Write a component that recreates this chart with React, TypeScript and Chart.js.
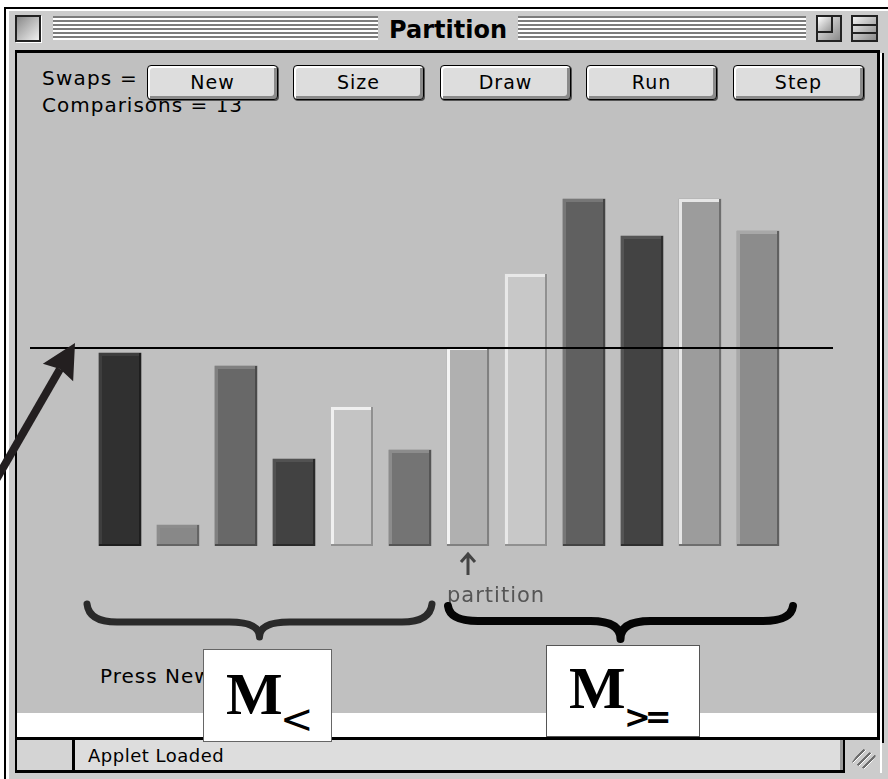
import React, { useEffect, useRef } from 'react';
import { Chart, registerables } from 'chart.js';

Chart.register(...registerables);

// ---- data ----
const barLabels = ['1', '2', '3', '4', '5', '6', '7', '8', '9', '10', '11', '12'];
const barValues = [193, 21, 180, 87, 139, 96, 199, 272, 347, 310, 347, 315];
const pivotValue = 199;
const partitionIndex = 6;
const leftGroup = [0, 5];
const rightGroup = [6, 11];
const buttonLabels = ['New', 'Size', 'Draw', 'Run', 'Step'];
const swapsCount = 10;
const comparisonsCount = 13;
const windowTitle = 'Partition';
const statusText = 'Applet Loaded';
const hintText = 'Press New';
const partitionLabel = 'partition';

// ---- styles ----
const barFills = ['#303030', '#888888', '#686868', '#424242', '#c4c4c4', '#747474', '#b0b0b0', '#c8c8c8', '#606060', '#434343', '#9c9c9c', '#8c8c8c'];
const barLights = ['#3e3e3e', '#8c8c8c', '#808080', '#525252', '#f0f0f0', '#8c8c8c', '#f4f4f4', '#e8e8e8', '#777777', '#555555', '#e6e6e6', '#a8a8a8'];
const barShades = ['#1e1e1e', '#646464', '#4a4a4a', '#2a2a2a', '#909090', '#555555', '#808080', '#909090', '#444444', '#2e2e2e', '#6e6e6e', '#606060'];

const bevelPlugin = {
  id: 'bevel',
  afterDatasetsDraw(chart: any) {
    const ctx = chart.ctx;
    const meta = chart.getDatasetMeta(0);
    meta.data.forEach((el: any, i: number) => {
      const p = el.getProps(['x', 'y', 'base', 'width'], true);
      const l = Math.round(p.x - p.width / 2);
      const r = Math.round(p.x + p.width / 2);
      const t = Math.round(p.y);
      const b = Math.round(p.base);
      ctx.save();
      ctx.fillStyle = barLights[i];
      ctx.fillRect(l, t, 3, b - t);
      ctx.fillRect(l, t, r - l, 3);
      ctx.fillStyle = barShades[i];
      ctx.fillRect(r - 2, t, 2, b - t);
      ctx.fillRect(l, b - 2, r - l, 2);
      ctx.restore();
    });
  },
};

function drawBrace(ctx: any, x0: number, x1: number, yTop: number, yMid: number, yTip: number, r: number, lw: number, color: string) {
  const mid = (x0 + x1) / 2;
  ctx.save();
  ctx.strokeStyle = color;
  ctx.lineWidth = lw;
  ctx.lineCap = 'round';
  ctx.lineJoin = 'round';
  ctx.beginPath();
  ctx.moveTo(x0, yTop);
  ctx.quadraticCurveTo(x0 + 2, yMid, x0 + r, yMid);
  ctx.lineTo(mid - r, yMid);
  ctx.quadraticCurveTo(mid, yMid, mid, yTip);
  ctx.quadraticCurveTo(mid, yMid, mid + r, yMid);
  ctx.lineTo(x1 - r, yMid);
  ctx.quadraticCurveTo(x1 - 2, yMid, x1, yTop);
  ctx.stroke();
  ctx.restore();
}

const overlayPlugin = {
  id: 'overlay',
  afterDraw(chart: any) {
    const ctx = chart.ctx;
    const xs = chart.scales.x;
    const ys = chart.scales.y;
    const area = chart.chartArea;
    const lineY = Math.round(ys.getPixelForValue(pivotValue));
    const lineX0 = area.left - 61;
    const lineX1 = area.right + 46;

    // pivot line
    ctx.save();
    ctx.fillStyle = '#000';
    ctx.fillRect(lineX0, lineY, lineX1 - lineX0, 2);
    ctx.restore();

    // annotation arrow pointing at the pivot line
    const tip = { x: lineX0 + 45, y: lineY - 4 };
    const d = { x: 0.5, y: -0.866 };
    const n = { x: 0.866, y: 0.5 };
    const bm = { x: tip.x - 34 * d.x, y: tip.y - 34 * d.y };
    ctx.save();
    ctx.strokeStyle = '#231f20';
    ctx.fillStyle = '#231f20';
    ctx.lineWidth = 8;
    ctx.beginPath();
    ctx.moveTo(bm.x + 4 * d.x, bm.y + 4 * d.y);
    ctx.lineTo(tip.x - 170 * d.x, tip.y - 170 * d.y);
    ctx.stroke();
    ctx.beginPath();
    ctx.moveTo(tip.x, tip.y);
    ctx.lineTo(bm.x + 17.5 * n.x, bm.y + 17.5 * n.y);
    ctx.lineTo(bm.x + 4 * d.x, bm.y + 4 * d.y);
    ctx.lineTo(bm.x - 17.5 * n.x, bm.y - 17.5 * n.y);
    ctx.closePath();
    ctx.fill();
    ctx.restore();

    // partition marker
    const px = Math.round(xs.getPixelForValue(partitionIndex));
    ctx.save();
    ctx.strokeStyle = '#444';
    ctx.lineWidth = 3;
    ctx.beginPath();
    ctx.moveTo(px, 555);
    ctx.lineTo(px, 575);
    ctx.moveTo(px - 7, 562);
    ctx.lineTo(px, 554);
    ctx.lineTo(px + 7, 562);
    ctx.stroke();
    ctx.fillStyle = '#555';
    ctx.font = '21px "DejaVu Sans"';
    try { (ctx as any).letterSpacing = '1px'; } catch (e) {}
    ctx.textBaseline = 'alphabetic';
    ctx.textAlign = 'left';
    ctx.fillText(partitionLabel, px - 21, 602);
    ctx.restore();

    // braces
    const lx0 = xs.getPixelForValue(leftGroup[0]) - 33;
    const lx1 = xs.getPixelForValue(leftGroup[1]) + 22;
    const rx0 = xs.getPixelForValue(rightGroup[0]) - 20;
    const rx1 = xs.getPixelForValue(rightGroup[1]) + 35;
    drawBrace(ctx, lx0, lx1, 604, 622, 637, 30, 7, '#2a2a2a');
    drawBrace(ctx, rx0, rx1, 606, 621, 639, 30, 8, '#050505');
  },
};

const abs = (s: any) => ({ position: 'absolute', ...s } as React.CSSProperties);

function Button({ label, left }: { label: string; left: number }) {
  return (
    <div
      style={abs({
        left,
        top: 65,
        width: 131,
        height: 35,
        boxSizing: 'border-box',
        border: '1px solid #000',
        borderRadius: 4,
        background: '#dddddd',
        boxShadow: 'inset 2px 2px 0 #ffffff, inset -3px -3px 0 #8a8a8a, 1px 1px 0 #555',
        display: 'flex',
        alignItems: 'center',
        justifyContent: 'center',
        fontSize: 19,
        lineHeight: '19px',
        letterSpacing: '1px',
        color: '#000',
        zIndex: 2,
      })}
    >
      {label}
    </div>
  );
}

export default function App() {
  const canvasRef = useRef<HTMLCanvasElement | null>(null);

  useEffect(() => {
    const canvas = canvasRef.current;
    if (!canvas) return;
    const chart = new Chart(canvas, {
      type: 'bar',
      data: {
        labels: barLabels,
        datasets: [
          {
            data: barValues,
            backgroundColor: barFills,
            borderWidth: 0,
            barThickness: 42,
          },
        ],
      },
      options: {
        animation: false,
        responsive: false,
        devicePixelRatio: 1,
        events: [],
        layout: { padding: { left: 91, right: 101, top: 146, bottom: 233 } },
        plugins: { legend: { display: false }, tooltip: { enabled: false } },
        scales: {
          x: { display: false },
          y: { display: false, min: 0, max: 400 },
        },
      } as any,
      plugins: [bevelPlugin, overlayPlugin],
    });
    return () => chart.destroy();
  }, []);

  return (
    <div
      style={abs({
        left: 0,
        top: 0,
        width: 888,
        height: 779,
        overflow: 'hidden',
        background: '#ffffff',
        fontFamily: '"DejaVu Sans", sans-serif',
      })}
    >
      {/* window frame */}
      <div style={abs({ left: 4, top: 7, width: 900, height: 800, background: '#cccccc', borderLeft: '2px solid #000', borderTop: '2px solid #000', boxShadow: 'inset 3px 2px 0 #ffffff' })} />
      {/* close box */}
      <div style={abs({ left: 15, top: 15, width: 26, height: 27, boxSizing: 'border-box', border: '2px solid #222', background: 'linear-gradient(135deg, #8a8a8a, #f0f0f0)', boxShadow: '1px 1px 0 #fff' })} />
      {/* title stripes */}
      <div style={abs({ left: 53, top: 16, width: 325, height: 24, background: 'repeating-linear-gradient(to bottom, #7c7c7c 0px, #7c7c7c 2px, #ffffff 2px, #ffffff 4px)' })} />
      <div style={abs({ left: 518, top: 16, width: 288, height: 24, background: 'repeating-linear-gradient(to bottom, #7c7c7c 0px, #7c7c7c 2px, #ffffff 2px, #ffffff 4px)' })} />
      <div style={abs({ left: 378, top: 18, width: 140, textAlign: 'center', fontSize: 24, lineHeight: '24px', fontWeight: 'bold', color: '#000' })}>{windowTitle}</div>
      {/* zoom box */}
      <div style={abs({ left: 816, top: 15, width: 26, height: 27, boxSizing: 'border-box', border: '2px solid #222', background: 'linear-gradient(135deg, #f0f0f0, #8a8a8a)' })}>
        <div style={abs({ left: 0, top: 0, width: 13, height: 14, borderRight: '2px solid #222', borderBottom: '2px solid #222', background: 'linear-gradient(135deg, #fff, #999)' })} />
      </div>
      {/* collapse box */}
      <div style={abs({ left: 851, top: 15, width: 27, height: 27, boxSizing: 'border-box', border: '2px solid #222', background: 'linear-gradient(135deg, #f0f0f0, #8a8a8a)' })}>
        <div style={abs({ left: 0, top: 7, width: 23, height: 6, borderTop: '2px solid #222', borderBottom: '2px solid #222' })} />
      </div>

      {/* content panel */}
      <div style={abs({ left: 15, top: 50, width: 865, height: 690, boxSizing: 'border-box', borderTop: '3px solid #000', borderLeft: '2px solid #000', borderRight: '3px solid #000', borderBottom: '3px solid #000', background: 'linear-gradient(to bottom, #c0c0c0 0px, #c0c0c0 660px, #ffffff 660px)' })} />
      <div style={abs({ left: 880, top: 53, width: 2, height: 720, background: '#ffffff' })} />
      <div style={abs({ left: 882, top: 53, width: 2, height: 690, background: '#000000' })} />

      {/* counters */}
      <div style={abs({ left: 42, top: 68, fontSize: 20, lineHeight: '20px', letterSpacing: '1.2px', color: '#000', whiteSpace: 'nowrap' })}>Swaps = {swapsCount}</div>
      <div style={abs({ left: 42, top: 95, fontSize: 20, lineHeight: '20px', letterSpacing: '1px', color: '#000', whiteSpace: 'nowrap' })}>Comparisons = {comparisonsCount}</div>
      {buttonLabels.map((b, i) => (
        <Button key={b} label={b} left={Math.round(147 + i * 146.4)} />
      ))}

      {/* hint text */}
      <div style={abs({ left: 100, top: 666, fontSize: 20, lineHeight: '20px', letterSpacing: '1px', color: '#000', whiteSpace: 'nowrap' })}>{hintText}</div>

      {/* status bar */}
      <div style={abs({ left: 15, top: 740, width: 830, height: 33, boxSizing: 'border-box', borderLeft: '2px solid #000', borderRight: '2px solid #000', borderBottom: '3px solid #000', background: '#dddddd', boxShadow: 'inset -3px 0 0 #9a9a9a' })}>
        <div style={abs({ left: 0, top: 0, width: 58, height: 30, boxSizing: 'border-box', borderRight: '3px solid #000', background: '#d4d4d4' })} />
        <div style={abs({ left: 71, top: 7, fontSize: 18, lineHeight: '18px', letterSpacing: '0.5px', color: '#000', whiteSpace: 'nowrap' })}>{statusText}</div>
      </div>
      {/* grow box grip */}
      <div style={abs({ left: 852, top: 748, width: 24, height: 22, background: 'repeating-linear-gradient(135deg, transparent 0px, transparent 3px, #6e6e6e 3px, #6e6e6e 5px, #ffffff 5px, #ffffff 6px)', clipPath: 'polygon(40% 0, 100% 35%, 60% 100%, 0 65%)' })} />

      {/* chart canvas */}
      <canvas ref={canvasRef} width={888} height={779} style={abs({ left: 0, top: 0, width: 888, height: 779, zIndex: 3, pointerEvents: 'none' })} />

      {/* M boxes */}
      <div style={abs({ left: 203, top: 649, width: 129, height: 93, boxSizing: 'border-box', border: '1px solid #666', background: '#fff', zIndex: 4 })} />
      <div style={abs({ left: 226, top: 664, fontFamily: '"Liberation Serif", serif', fontWeight: 'bold', fontSize: 60, lineHeight: '60px', color: '#000', zIndex: 5 })}>M</div>
      <div style={abs({ left: 280, top: 699, fontSize: 40, lineHeight: '40px', color: '#000', zIndex: 5 })}>&lt;</div>

      <div style={abs({ left: 546, top: 645, width: 154, height: 92, boxSizing: 'border-box', border: '1px solid #555', background: '#fff', zIndex: 4 })} />
      <div style={abs({ left: 569, top: 658, fontFamily: '"Liberation Serif", serif', fontWeight: 'bold', fontSize: 60, lineHeight: '60px', color: '#000', zIndex: 5 })}>M</div>
      <div style={abs({ left: 624, top: 701, fontSize: 32, lineHeight: '32px', fontWeight: 'bold', letterSpacing: '-6px', color: '#000', zIndex: 5, whiteSpace: 'nowrap' })}>&gt;=</div>
    </div>
  );
}
